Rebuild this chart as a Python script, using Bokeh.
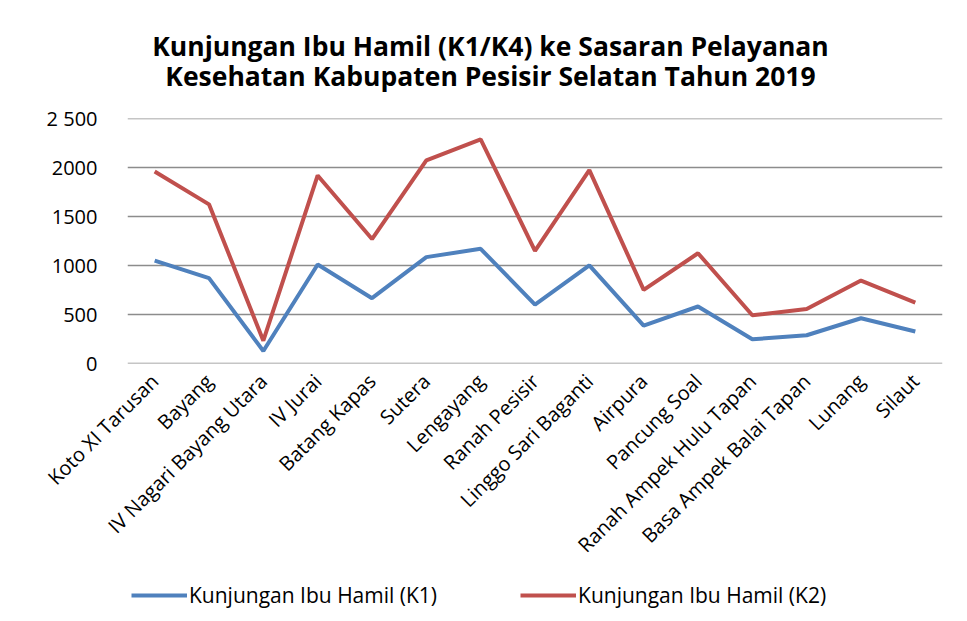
import math
from bokeh.plotting import figure
from bokeh.layouts import column
from bokeh.models import (FactorRange, Range1d, FixedTicker, Label, Legend, LegendItem,
                          ColumnDataSource)
from bokeh.embed import file_html
from bokeh.resources import INLINE

categories = ["Koto XI Tarusan", "Bayang", "IV Nagari Bayang Utara", "IV Jurai",
              "Batang Kapas", "Sutera", "Lengayang", "Ranah Pesisir",
              "Linggo Sari Baganti", "Airpura", "Pancung Soal",
              "Ranah Ampek Hulu Tapan", "Basa Ampek Balai Tapan", "Lunang", "Silaut"]
k1 = [1050, 870, 125, 1010, 665, 1085, 1170, 600, 1000, 385, 580, 245, 286, 460, 325]
k2 = [1960, 1625, 230, 1920, 1270, 2075, 2290, 1150, 1975, 750, 1125, 490, 555, 845, 620]
y_ticks = [0, 500, 1000, 1500, 2000, 2500]
y_tick_labels = ["0", "500", "1000", "1500", "2000", "2 500"]
series_names = ["Kunjungan Ibu Hamil (K1)", "Kunjungan Ibu Hamil (K2)"]
title_lines = ["Kunjungan Ibu Hamil (K1/K4) ke Sasaran Pelayanan",
               "Kesehatan Kabupaten Pesisir Selatan Tahun 2019"]

FONT = "Open Sans"
BLUE = "#4F81BD"
RED = "#C0504D"
W = 959


def bare(height):
    f = figure(width=W, height=height, x_range=Range1d(0, 1), y_range=Range1d(0, 1),
               x_axis_location=None, y_axis_location=None, output_backend="svg",
               toolbar_location=None, min_border=0)
    f.outline_line_color = None
    f.grid.grid_line_color = None
    return f


# ---- title strip (its frame is aligned with the chart frame by the column) ----
t = bare(100)
for txt, yy in zip(title_lines, [55, 25]):
    t.add_layout(Label(x=363, y=yy, x_units="screen", y_units="screen", text=txt,
                       text_align="center", text_baseline="middle",
                       text_font=FONT, text_font_style="bold", text_font_size="26.5px",
                       text_color="#000000"))

# ---- main chart ----
src = ColumnDataSource(dict(cat=categories, k1=k1, k2=k2))
p = figure(frame_width=815, frame_height=245,
           x_range=FactorRange(*categories, range_padding=0),
           y_range=Range1d(-3, 2503), output_backend="svg", toolbar_location=None,
           min_border_left=127, min_border_right=17, min_border_top=18,
           min_border_bottom=215)
p.outline_line_color = None

r1 = p.line("cat", "k1", source=src, line_color=BLUE, line_width=4)
r2 = p.line("cat", "k2", source=src, line_color=RED, line_width=4)

p.yaxis.ticker = FixedTicker(ticks=y_ticks)
p.yaxis.major_label_overrides = {t_: l for t_, l in zip(y_ticks, y_tick_labels)}
p.yaxis.axis_line_color = None
p.yaxis.major_tick_line_color = None
p.yaxis.minor_tick_line_color = None
p.yaxis.major_label_text_font = FONT
p.yaxis.major_label_text_font_size = "20px"
p.yaxis.major_label_text_color = "#000000"
p.yaxis.major_label_standoff = 24

p.xaxis.axis_line_color = None
p.xaxis.major_tick_line_color = None
p.xaxis.major_label_orientation = math.pi / 4
p.xaxis.major_label_text_font = FONT
p.xaxis.major_label_text_font_size = "20px"
p.xaxis.major_label_text_color = "#000000"
p.xaxis.major_label_standoff = 8

p.xgrid.grid_line_color = None
p.ygrid.ticker = FixedTicker(ticks=y_ticks)
p.ygrid.grid_line_color = "#8c8c8c"
p.ygrid.grid_line_width = 1.5

# ---- legend strip (series drawn out of view, only their legend entries show) ----
b = bare(34)
lsrc = ColumnDataSource(dict(i=list(range(len(categories))), k1=k1, k2=k2))
lr1 = b.line("i", "k1", source=lsrc, line_color=BLUE, line_width=4)
lr2 = b.line("i", "k2", source=lsrc, line_color=RED, line_width=4)
legend = Legend(items=[LegendItem(label=series_names[0], renderers=[lr1]),
                       LegendItem(label=series_names[1], renderers=[lr2])],
                orientation="horizontal", location=(4, 3), margin=0, padding=0,
                spacing=83, glyph_width=56, glyph_height=24, label_standoff=2,
                label_text_font=FONT, label_text_font_size="21px",
                label_text_color="#000000", border_line_color=None,
                background_fill_alpha=0)
b.add_layout(legend, "center")

layout = column(t, p, b, spacing=0)
open("out.html", "w").write(file_html(layout, INLINE))
